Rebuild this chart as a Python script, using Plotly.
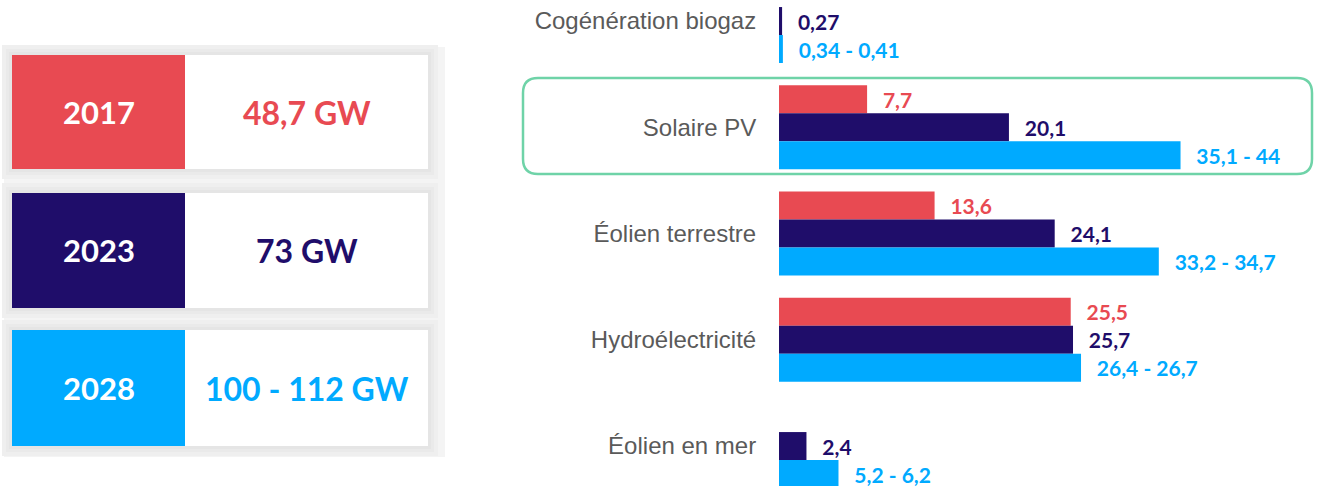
import plotly.graph_objects as go

# Installed renewable capacity by technology (GW)
categories = ["Cogénération biogaz", "Solaire PV", "Éolien terrestre",
              "Hydroélectricité", "Éolien en mer"]
values_2017 = [None, 7.7, 13.6, 25.5, None]
values_2023 = [0.27, 20.1, 24.1, 25.7, 2.4]
values_2028_low = [0.34, 35.1, 33.2, 26.4, 5.2]
values_2028_high = [0.41, 44, 34.7, 26.7, 6.2]

# Totals per year (GW)
years = ["2017", "2023", "2028"]
totals_low = [48.7, 73, 100]
totals_high = [None, None, 112]

RED = "#E84A52"
NAVY = "#1F0D6A"
BLUE = "#00AAFF"
colors = [RED, NAVY, BLUE]

W, H = 1317, 486


def fr(v):
    return f"{v:g}".replace(".", ",")


def label(lo, hi=None):
    if lo is None:
        return ""
    s = fr(lo)
    if hi is not None:
        s += " - " + fr(hi)
    return s


pad = "\u00a0\u00a0\u2009"
text_2017 = [pad + label(v) if v is not None else "" for v in values_2017]
text_2023 = [pad + label(v) for v in values_2023]
text_2028 = [pad + label(lo, hi) for lo, hi in zip(values_2028_low, values_2028_high)]

fig = go.Figure()
for name, vals, txt, col in [("2017", values_2017, text_2017, RED),
                             ("2023", values_2023, text_2023, NAVY),
                             ("2028", values_2028_low, text_2028, BLUE)]:
    fig.add_trace(go.Bar(
        name=name, y=categories, x=vals, orientation="h",
        marker=dict(color=col, line=dict(width=0)),
        text=txt, textposition="outside", constraintext="none",
        cliponaxis=False,
        textfont=dict(family="Lato", size=21, color=col, weight="bold"),
        hoverinfo="skip",
    ))

x0_plot = 779
px_per_gw = 11.44

# Left panel: year boxes with totals
shapes = []


def px(x):
    return x / W


def py(y):
    return 1 - y / H


shapes.append(dict(type="rect", xref="paper", yref="paper",
                   x0=px(4), x1=px(445), y0=py(457), y1=py(47),
                   fillcolor="#f4f4f4", line=dict(width=0), layer="below"))
box_rows = [(55, 169), (193, 308), (330, 446)]
for (top, bot) in box_rows:
    for grow, c in [(10, "#efefef"), (6, "#eaeaea"), (3, "#e5e5e5")]:
        shapes.append(dict(type="rect", xref="paper", yref="paper",
                           x0=px(12 - grow), x1=px(428 + grow),
                           y0=py(bot + grow), y1=py(top - grow),
                           fillcolor=c, line=dict(width=0), layer="below"))
annotations = []
for (top, bot), col, yr, lo, hi in zip(box_rows, colors, years, totals_low, totals_high):
    shapes.append(dict(type="rect", xref="paper", yref="paper",
                       x0=px(12), x1=px(185), y0=py(bot), y1=py(top),
                       fillcolor=col, line=dict(width=0)))
    shapes.append(dict(type="rect", xref="paper", yref="paper",
                       x0=px(185), x1=px(428), y0=py(bot), y1=py(top),
                       fillcolor="white", line=dict(width=0)))
    annotations.append(dict(xref="paper", yref="paper", x=px(98.5), y=py((top + bot) / 2),
                            text=yr, showarrow=False, xanchor="center", yanchor="middle",
                            font=dict(family="Lato", size=31, color="white", weight="bold")))
    annotations.append(dict(xref="paper", yref="paper", x=px(306.5), y=py((top + bot) / 2),
                            text=label(lo, hi) + " GW", showarrow=False,
                            xanchor="center", yanchor="middle",
                            font=dict(family="Lato", size=32, color=col, weight="bold")))

# Rounded highlight frame around the solar category
l, r, t, b, rad = 523, 1312, 78, 174, 15
rx, ry = rad / W, rad / H
path = (f"M {px(l)+rx},{py(t)} L {px(r)-rx},{py(t)} Q {px(r)},{py(t)} {px(r)},{py(t)-ry} "
        f"L {px(r)},{py(b)+ry} Q {px(r)},{py(b)} {px(r)-rx},{py(b)} "
        f"L {px(l)+rx},{py(b)} Q {px(l)},{py(b)} {px(l)},{py(b)+ry} "
        f"L {px(l)},{py(t)-ry} Q {px(l)},{py(t)} {px(l)+rx},{py(t)} Z")
shapes.append(dict(type="path", xref="paper", yref="paper", path=path,
                   line=dict(color="#6FD3A8", width=2.5), fillcolor="rgba(0,0,0,0)",
                   layer="below"))

fig.update_layout(
    width=W, height=H,
    margin=dict(l=0, r=0, t=0, b=0),
    paper_bgcolor="white", plot_bgcolor="rgba(0,0,0,0)",
    barmode="group", bargap=0.21, bargroupgap=0,
    showlegend=False,
    shapes=shapes, annotations=annotations,
    xaxis=dict(domain=[x0_plot / W, 1], range=[0, (W - x0_plot) / px_per_gw],
               visible=False, fixedrange=True),
    yaxis=dict(type="category", categoryorder="array", categoryarray=categories,
               range=[4.376, -0.198], showgrid=False, zeroline=False, showline=False,
               ticks="outside", ticklen=17, tickcolor="rgba(0,0,0,0)",
               tickfont=dict(family="Liberation Sans", size=24, color="#5a5a5a"),
               automargin=False, fixedrange=True),
)

fig.write_html("out.html")
